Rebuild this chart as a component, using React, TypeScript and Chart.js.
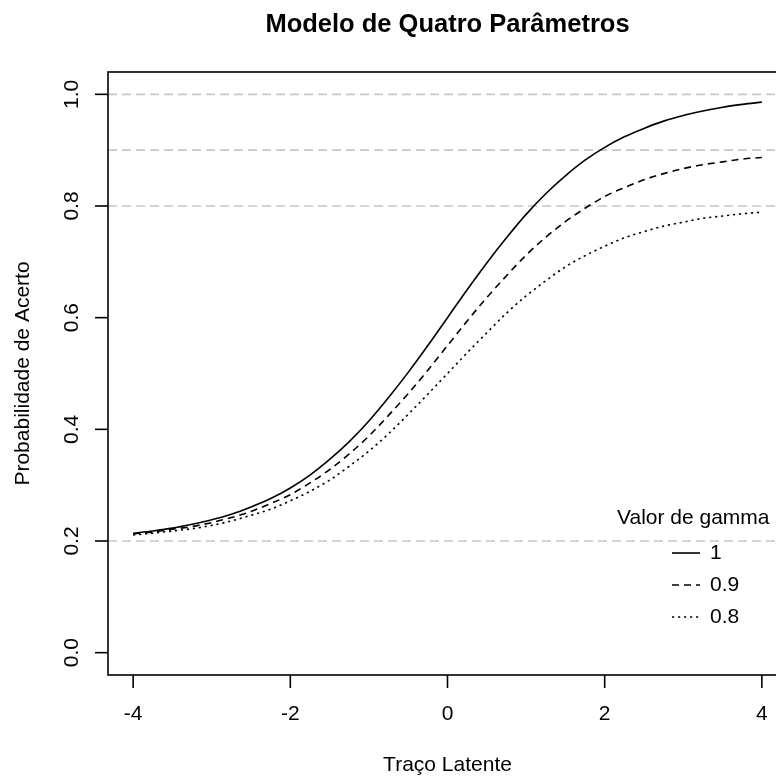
import { useEffect, useRef } from "react";
import { Chart, registerables } from "chart.js";

Chart.register(...registerables);

// Latent trait grid
const thetaValues = [
  -4, -3.75, -3.5, -3.25, -3, -2.75, -2.5, -2.25, -2, -1.75, -1.5, -1.25, -1,
  -0.75, -0.5, -0.25, 0, 0.25, 0.5, 0.75, 1, 1.25, 1.5, 1.75, 2, 2.25, 2.5,
  2.75, 3, 3.25, 3.5, 3.75, 4,
];

// Probability of a correct answer, one curve per upper asymptote
const probGamma1 = [
  0.214, 0.218, 0.223, 0.23, 0.238, 0.248, 0.261, 0.276, 0.295, 0.318, 0.346,
  0.378, 0.415, 0.457, 0.502, 0.55, 0.6, 0.65, 0.698, 0.743, 0.785, 0.822,
  0.854, 0.882, 0.905, 0.924, 0.939, 0.952, 0.962, 0.97, 0.977, 0.982, 0.986,
];
const probGamma09 = [
  0.213, 0.216, 0.221, 0.226, 0.233, 0.242, 0.253, 0.267, 0.283, 0.304, 0.328,
  0.356, 0.388, 0.425, 0.464, 0.506, 0.55, 0.594, 0.636, 0.675, 0.712, 0.744,
  0.772, 0.796, 0.817, 0.833, 0.847, 0.858, 0.867, 0.874, 0.879, 0.884, 0.887,
];
const probGamma08 = [
  0.211, 0.214, 0.218, 0.222, 0.228, 0.236, 0.246, 0.257, 0.272, 0.289, 0.309,
  0.334, 0.361, 0.392, 0.427, 0.463, 0.5, 0.537, 0.573, 0.608, 0.639, 0.666,
  0.691, 0.711, 0.728, 0.743, 0.754, 0.764, 0.771, 0.778, 0.782, 0.786, 0.789,
];

const seriesLabels = ["1", "0.9", "0.8"];
const seriesValues = [probGamma1, probGamma09, probGamma08];
const seriesDashes = [[], [7, 5], [2.2, 3.8]];

// Horizontal reference levels (lower and upper asymptotes)
const referenceLevels = [0.2, 0.8, 0.9, 1.0];

const xTicks = [-4, -2, 0, 2, 4];
const xTickLabels = ["-4", "-2", "0", "2", "4"];
const yTicks = [0, 0.2, 0.4, 0.6, 0.8, 1.0];
const yTickLabels = ["0.0", "0.2", "0.4", "0.6", "0.8", "1.0"];

const titleText = "Modelo de Quatro Parâmetros";
const xAxisTitle = "Traço Latente";
const yAxisTitle = "Probabilidade de Acerto";
const legendTitle = "Valor de gamma";

const FONT = '"Liberation Sans", Arial, sans-serif';
const TEXT_PX = 21;
const TITLE_PX = 25.5;
const LW = 1.6;

const baseGraphics = {
  id: "baseGraphics",
  beforeDatasetsDraw(chart: any) {
    const { ctx, chartArea: a, scales } = chart;
    const y = scales.y;
    ctx.save();
    ctx.strokeStyle = "#c8c8c8";
    ctx.lineWidth = LW;
    ctx.setLineDash([9, 5]);
    for (const v of referenceLevels) {
      const py = y.getPixelForValue(v);
      ctx.beginPath();
      ctx.moveTo(a.left, py);
      ctx.lineTo(a.right, py);
      ctx.stroke();
    }
    ctx.restore();
  },
  afterDraw(chart: any) {
    const { ctx, chartArea: a, scales } = chart;
    const x = scales.x;
    const y = scales.y;
    ctx.save();
    ctx.strokeStyle = "#000";
    ctx.fillStyle = "#000";
    ctx.lineWidth = LW;
    ctx.setLineDash([]);

    // plot frame
    ctx.strokeRect(a.left, a.top, a.right - a.left, a.bottom - a.top);

    // x axis ticks and labels
    ctx.font = `${TEXT_PX}px ${FONT}`;
    ctx.textAlign = "center";
    ctx.textBaseline = "middle";
    xTicks.forEach((v, i) => {
      const px = x.getPixelForValue(v);
      ctx.beginPath();
      ctx.moveTo(px, a.bottom);
      ctx.lineTo(px, a.bottom + 13);
      ctx.stroke();
      ctx.fillText(xTickLabels[i], px, a.bottom + 39);
    });

    // y axis ticks and rotated labels
    yTicks.forEach((v, i) => {
      const py = y.getPixelForValue(v);
      ctx.beginPath();
      ctx.moveTo(a.left, py);
      ctx.lineTo(a.left - 13, py);
      ctx.stroke();
      ctx.save();
      ctx.translate(a.left - 36, py);
      ctx.rotate(-Math.PI / 2);
      ctx.fillText(yTickLabels[i], 0, 0);
      ctx.restore();
    });

    // axis titles
    const cx = (a.left + a.right) / 2;
    const cy = (a.top + a.bottom) / 2;
    ctx.fillText(xAxisTitle, cx, a.bottom + 90);
    ctx.save();
    ctx.translate(a.left - 85, cy);
    ctx.rotate(-Math.PI / 2);
    ctx.fillText(yAxisTitle, 0, 0);
    ctx.restore();

    // main title
    ctx.font = `bold ${TITLE_PX}px ${FONT}`;
    ctx.fillText(titleText, cx, 25);

    // legend
    ctx.font = `${TEXT_PX}px ${FONT}`;
    ctx.textAlign = "left";
    ctx.fillText(legendTitle, 617, 518);
    seriesLabels.forEach((lab, i) => {
      const ly = 553 + i * 32;
      ctx.setLineDash(seriesDashes[i]);
      ctx.beginPath();
      ctx.moveTo(672, ly);
      ctx.lineTo(700, ly);
      ctx.stroke();
      ctx.setLineDash([]);
      ctx.fillText(lab, 710, ly);
    });
    ctx.restore();
  },
};

export default function App() {
  const canvasRef = useRef<HTMLCanvasElement | null>(null);

  useEffect(() => {
    document.body.style.margin = "0";
    const canvas = canvasRef.current;
    if (!canvas) return;
    const chart = new Chart(canvas, {
      type: "line",
      data: {
        datasets: seriesValues.map((vals, i) => ({
          label: seriesLabels[i],
          data: thetaValues.map((t, j) => ({ x: t, y: vals[j] })),
          borderColor: "#000",
          borderWidth: LW,
          borderDash: seriesDashes[i],
          pointRadius: 0,
          fill: false,
          cubicInterpolationMode: "monotone" as const,
        })),
      },
      options: {
        responsive: false,
        animation: false,
        devicePixelRatio: 1,
        layout: { padding: { left: 108, right: 13, top: 72, bottom: 101 } },
        plugins: {
          legend: { display: false },
          tooltip: { enabled: false },
          title: { display: false },
        },
        scales: {
          x: { type: "linear", min: -4.32, max: 4.32, display: false },
          y: { type: "linear", min: -0.04, max: 1.04, display: false },
        },
      },
      plugins: [baseGraphics],
    });
    return () => chart.destroy();
  }, []);

  return (
    <div
      style={{
        position: "fixed",
        left: 0,
        top: 0,
        width: 776,
        height: 776,
        overflow: "hidden",
        background: "#fff",
      }}
    >
      <canvas ref={canvasRef} width={800} height={776} style={{ display: "block" }} />
    </div>
  );
}
